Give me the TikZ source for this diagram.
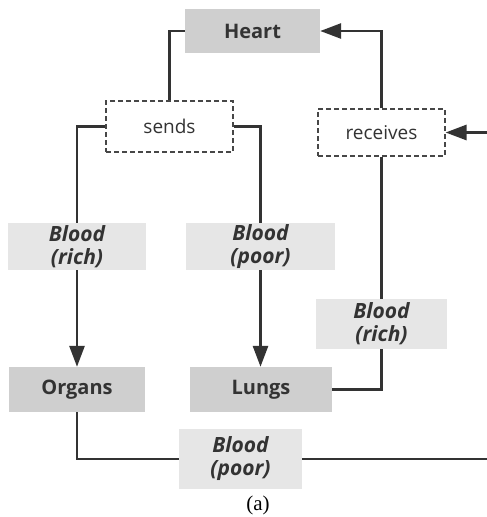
\documentclass[tikz,border=0pt]{standalone}
\usepackage{fontspec}
\setmainfont{Open Sans}
\newfontfamily\capfont{Liberation Serif}
\usetikzlibrary{arrows.meta}
\definecolor{boxdark}{HTML}{CFCFCF}
\definecolor{boxlight}{HTML}{E6E6E6}
\definecolor{ink}{HTML}{333333}
\begin{document}
\begin{tikzpicture}[x=1pt,y=-1pt,
  organ/.style={fill=boxdark, text=ink, font=\fontsize{20}{24}\selectfont\bfseries, inner sep=0},
  flow/.style={fill=boxlight, text=ink, font=\fontsize{21}{23}\selectfont\bfseries\itshape, align=center, inner sep=0},
  verb/.style={draw=ink!90, dash pattern=on 5pt off 3pt, line width=1.1pt, fill=white, text=ink, font=\fontsize{19}{22}\selectfont, inner sep=0},
  link/.style={draw=ink, line width=2.8pt},
  arr/.style={link, -{Triangle[length=21pt,width=15pt]}}
]
\useasboundingbox (0,0) rectangle (487,517);

% boxes
\node[organ, minimum width=135pt, minimum height=44pt] (heart) at (252.5,31) {Heart};
\node[verb, minimum width=127pt, minimum height=51pt] (sends) at (169.5,126.5) {sends};
\node[verb, minimum width=127pt, minimum height=47pt] (receives) at (381.5,132.5) {receives};
\node[flow, minimum width=138pt, minimum height=47pt] (richL) at (77,246.5) {Blood\\(rich)};
\node[flow, minimum width=149pt, minimum height=47pt] (poorM) at (260.5,246.5) {Blood\\(poor)};
\node[flow, minimum width=131pt, minimum height=50pt] (richR) at (381.5,324) {Blood\\(rich)};
\node[organ, minimum width=136pt, minimum height=45pt] (organs) at (77,389.5) {Organs};
\node[organ, minimum width=142pt, minimum height=45pt] (lungs) at (261,389.5) {Lungs};
\node[flow, minimum width=123pt, minimum height=60pt] (poorB) at (240.5,459) {Blood\\(poor)};
\node[font=\capfont\fontsize{21}{23}\selectfont, text=black] (cap) at (258,505) {(a)};

% loose ends at the right border
\coordinate (inR) at (487,132.5);
\coordinate (outR) at (487,459);

% connectors
\draw[link] (heart.west) -| (sends.north);
\draw[link] (sends.west) -| (richL.north);
\draw[link] (sends.east) -| (poorM.north);
\draw[arr] (richL.south) -- (organs.north);
\draw[arr] (poorM.south) -- (poorM.south |- lungs.north);
\draw[link] (lungs.east) -| (richR.south);
\draw[link] (richR.north) -- (receives.south);
\draw[arr] (receives.north) |- (heart.east);
\draw[link] (organs.south) |- (poorB.west);
\draw[link] (poorB.east) -- (outR);
\draw[arr] (inR) -- (receives.east);
\end{tikzpicture}
\end{document}
